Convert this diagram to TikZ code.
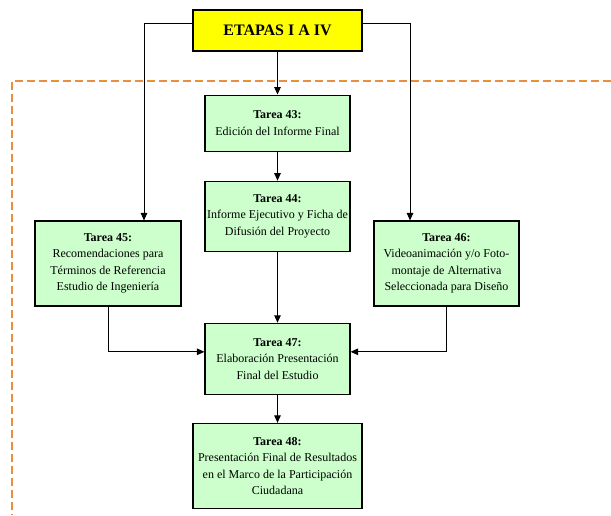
\documentclass[tikz,border=0pt]{standalone}
\usepackage{fontspec}
\setmainfont{Liberation Serif}
\usetikzlibrary{arrows.meta, positioning}
\definecolor{tareagreen}{RGB}{204,255,204}
\definecolor{etapayellow}{RGB}{255,255,0}
\definecolor{marcoorange}{RGB}{232,142,60}

\begin{document}
\begin{tikzpicture}[
                x=1pt, y=-1pt,
                node distance=29pt,
                tarea/.style={draw, line width=1.1pt, fill=tareagreen, minimum width=145pt, inner sep=2pt, align=center, font=\fontsize{12}{16.5}\selectfont},
                flecha/.style={-{Triangle[length=7.5pt,width=6.5pt]}, line width=1pt}
            ]
                \useasboundingbox (0,0) rectangle (611,515);

                % marco discontinuo
                \draw[marcoorange, line width=2pt, dash pattern=on 8pt off 4pt] (611,81) -- (12,81) -- (12,515);

                \node[draw, line width=1.1pt, fill=etapayellow, minimum width=169pt, minimum height=41pt, font=\bfseries\fontsize{16}{19}\selectfont] (etapas) at (277.5,30.5) {ETAPAS I A IV};
                \node[tarea, minimum height=56pt, below=43pt of etapas] (t43) {\textbf{Tarea 43:}\\Edición del Informe Final};
                \node[tarea, minimum height=70pt, below=of t43] (t44) {\textbf{Tarea 44:}\\Informe Ejecutivo y Ficha de\\Difusión del Proyecto};
                \node[tarea, minimum height=71pt, below=71pt of t44] (t47) {\textbf{Tarea 47:}\\Elaboración Presentación\\Final del Estudio};
                \node[tarea, minimum height=85pt, minimum width=169pt, below=28pt of t47] (t48) {\textbf{Tarea 48:}\\Presentación Final de Resultados\\en el Marco de la Participación\\Ciudadana};
                \node[tarea, minimum height=85pt, minimum width=146pt] (t45) at (108,263.5) {\textbf{Tarea 45:}\\Recomendaciones para\\Términos de Referencia\\Estudio de Ingeniería};
                \node[tarea, minimum height=85pt] (t46) at (446.5,263.5) {\textbf{Tarea 46:}\\Videoanimación y/o Foto-\\montaje de Alternativa\\Seleccionada para Diseño};

                \draw[flecha] ([yshift=7pt]etapas.west) -| ([xshift=36pt]t45.north);
                \draw[flecha] ([yshift=7pt]etapas.east) -| ([xshift=-36.5pt]t46.north);
                \draw[flecha] (etapas) -- (t43);
                \draw[flecha] (t43) -- (t44);
                \draw[flecha] (t44) -- (t47);
                \draw[flecha] (t45.south) |- ([yshift=7pt]t47.west);
                \draw[flecha] (t46.south) |- ([yshift=7pt]t47.east);
                \draw[flecha] (t47) -- (t48);
            \end{tikzpicture}
\end{document}
